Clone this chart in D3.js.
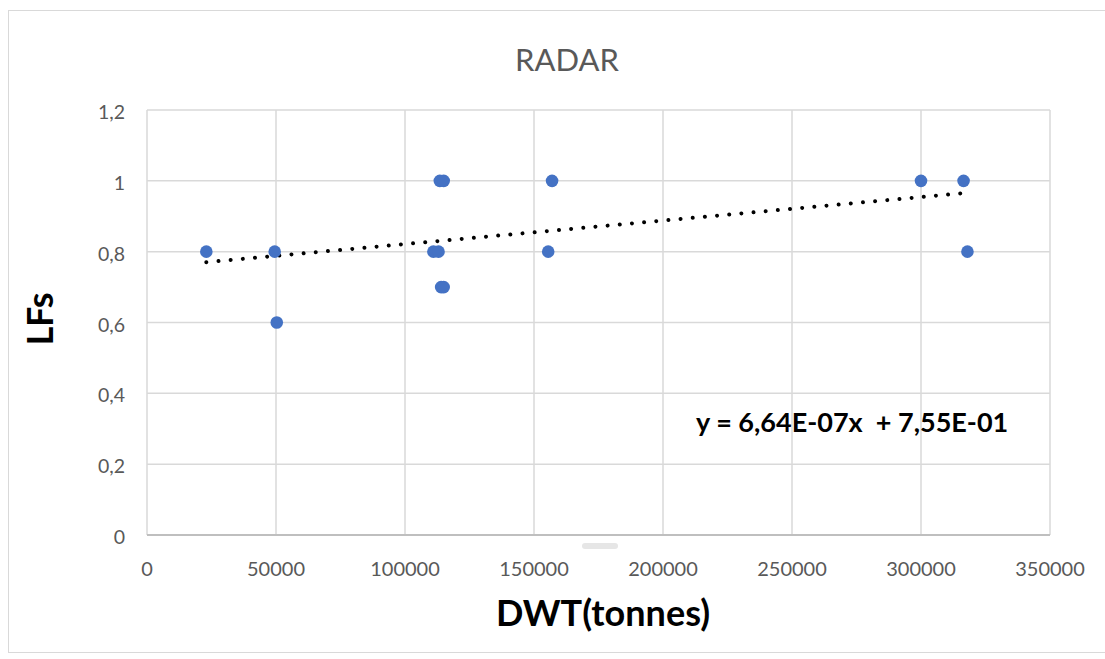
<!DOCTYPE html>
<html>
<head>
<meta charset="utf-8">
<script src="https://cdn.jsdelivr.net/npm/d3@7"></script>
<style>
  body { margin: 0; background: #fff; }
  svg { display: block; font-family: Lato, "Open Sans", sans-serif; }
</style>
</head>
<body>
<svg width="1105" height="659"></svg>
<script>
// values
const dwt = [23000, 49500, 50300, 111000, 113000, 113500, 115000, 114000, 115000, 155500, 157000, 300000, 316500, 318000]
const lfs = [0.8, 0.8, 0.6, 0.8, 0.8, 1, 1, 0.7, 0.7, 0.8, 1, 1, 1, 0.8]
const xTicks = [0, 50000, 100000, 150000, 200000, 250000, 300000, 350000]
const yTicks = [0, 0.2, 0.4, 0.6, 0.8, 1, 1.2]
const slope = 6.64e-7, intercept = 0.755
const equation = "y = 6,64E-07x  + 7,55E-01"

const svg = d3.select("svg")
const margin = { left: 147, right: 1105 - 1050, top: 110, bottom: 659 - 535 }
const width = 1105, height = 659

// chart frame
svg.append("rect")
  .attr("x", 8.5).attr("y", 10.5)
  .attr("width", 1110).attr("height", 642)
  .attr("fill", "#fff").attr("stroke", "#d9d9d9").attr("stroke-width", 1)

const x = d3.scaleLinear().domain([0, 350000]).range([margin.left, width - margin.right])
const y = d3.scaleLinear().domain([0, 1.2]).range([height - margin.bottom, margin.top])

// gridlines
svg.append("g")
  .selectAll("line.v").data(xTicks).enter().append("line")
  .attr("x1", d => x(d)).attr("x2", d => x(d))
  .attr("y1", y(1.2)).attr("y2", y(0))
  .attr("stroke", "#d9d9d9").attr("stroke-width", 1.5)
svg.append("g")
  .selectAll("line.h").data(yTicks.filter(d => d > 0)).enter().append("line")
  .attr("x1", x(0)).attr("x2", x(350000))
  .attr("y1", d => y(d)).attr("y2", d => y(d))
  .attr("stroke", "#d9d9d9").attr("stroke-width", 1.5)

// x axis line
svg.append("line")
  .attr("x1", x(0)).attr("x2", x(350000))
  .attr("y1", y(0)).attr("y2", y(0))
  .attr("stroke", "#bfbfbf").attr("stroke-width", 2)

// faint smudge under the axis
svg.append("rect")
  .attr("x", 582).attr("y", 543).attr("width", 36).attr("height", 6).attr("rx", 3)
  .attr("fill", "#e6e6e6")

// tick labels
svg.append("g")
  .selectAll("text").data(xTicks).enter().append("text")
  .attr("x", d => x(d)).attr("y", 576)
  .attr("text-anchor", "middle")
  .attr("font-size", 20).attr("fill", "#595959")
  .text(d => d)
svg.append("g")
  .selectAll("text").data(yTicks).enter().append("text")
  .attr("x", 125).attr("y", d => y(d) + 9)
  .attr("text-anchor", "end")
  .attr("font-size", 19.5).attr("fill", "#595959")
  .text(d => String(+d.toFixed(1)).replace(".", ","))

// trendline
const xs = d3.extent(dwt)
svg.append("line")
  .attr("x1", x(xs[0])).attr("y1", y(slope * xs[0] + intercept))
  .attr("x2", x(xs[1])).attr("y2", y(slope * xs[1] + intercept))
  .attr("stroke", "#000").attr("stroke-width", 4)
  .attr("stroke-linecap", "round")
  .attr("stroke-dasharray", "0.01 12.2")

// points
svg.append("g")
  .selectAll("circle").data(dwt).enter().append("circle")
  .attr("cx", d => x(d))
  .attr("cy", (d, i) => y(lfs[i]))
  .attr("r", 6.3)
  .attr("fill", "#4472c4")

// titles
svg.append("text")
  .attr("x", 567).attr("y", 71)
  .attr("text-anchor", "middle")
  .attr("font-size", 31).attr("fill", "#595959")
  .text("RADAR")
svg.append("text")
  .attr("x", 603).attr("y", 626)
  .attr("text-anchor", "middle")
  .attr("font-size", 36).attr("font-weight", "bold").attr("fill", "#000")
  .text("DWT(tonnes)")
svg.append("text")
  .attr("transform", "translate(53,319) rotate(-90)")
  .attr("text-anchor", "middle")
  .attr("font-size", 36).attr("font-weight", "bold").attr("fill", "#000")
  .text("LFs")
svg.append("text")
  .attr("x", 696).attr("y", 432)
  .attr("font-size", 27).attr("font-weight", "bold").attr("fill", "#000")
  .attr("xml:space", "preserve")
  .text(equation)
</script>
</body>
</html>
